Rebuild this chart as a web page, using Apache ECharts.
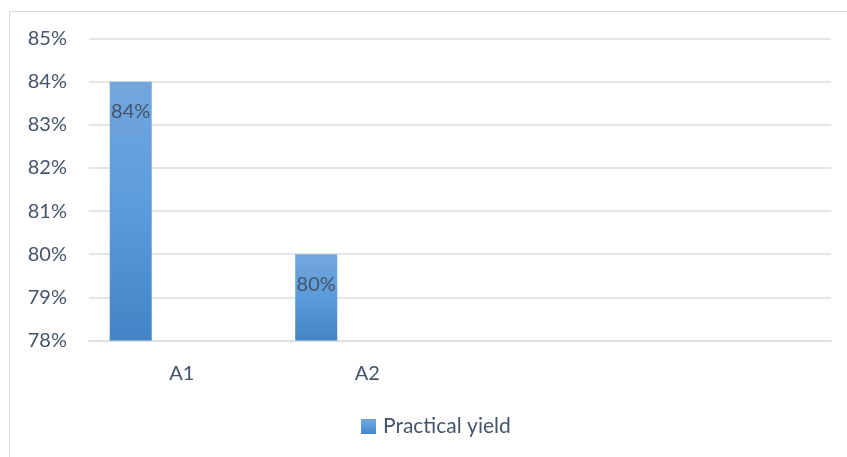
<!DOCTYPE html>
<html>
<head>
<meta charset="utf-8">
<style>
  html, body { margin: 0; padding: 0; background: #ffffff; }
  #chart { width: 847px; height: 457px; }
</style>
<script src="https://cdn.jsdelivr.net/npm/echarts@6/dist/echarts.min.js"></script>
</head>
<body>
<div id="chart"></div>
<script>
// Categories along the x axis (the last two slots are empty)
const categories = ['A1', 'A2', '', ''];
// Practical yield per sample, in percent
const practicalYield = [84, 80, null, null];
// Companion series slot (no values), keeps the bars on the left of each band
const emptySlot = [null, null, null, null];
// Value axis range and step, in percent
const yMin = 78;
const yMax = 85;
const yStep = 1;

const textColor = '#44546a';
const gridColor = '#dadde2';
const font = 'Lato, "Open Sans", sans-serif';

const chart = echarts.init(document.getElementById('chart'), null, { renderer: 'canvas' });

chart.setOption({
  animation: false,
  backgroundColor: '#ffffff',
  graphic: [{
    type: 'rect',
    shape: { x: 9.5, y: 11.5, width: 900, height: 500 },
    style: { fill: 'none', stroke: '#d9d9d9', lineWidth: 1 },
    silent: true,
    z: -1
  }],
  grid: { left: 89, right: 16, top: 38.5, bottom: 116.5, containLabel: false },
  legend: {
    data: ['Practical yield'],
    top: 416,
    left: 361,
    padding: 0,
    itemWidth: 15,
    itemHeight: 15,
    itemGap: 8,
    icon: 'rect',
    textStyle: { color: textColor, fontSize: 21, fontFamily: font, padding: [0, 0, 0, 2] }
  },
  xAxis: {
    type: 'category',
    data: categories,
    axisLine: { show: true, lineStyle: { color: gridColor, width: 1.5 } },
    axisTick: { show: false },
    axisLabel: { color: textColor, fontSize: 20, fontFamily: font, margin: 23 }
  },
  yAxis: {
    type: 'value',
    min: yMin,
    max: yMax,
    interval: yStep,
    axisLine: { show: false },
    axisTick: { show: false },
    splitLine: { lineStyle: { color: gridColor, width: 1.5 } },
    axisLabel: {
      color: textColor, fontSize: 20, fontFamily: font, margin: 22,
      formatter: '{value}%'
    }
  },
  series: [
    {
      name: 'Practical yield',
      type: 'bar',
      data: practicalYield,
      barWidth: 42,
      barGap: '143%',
      itemStyle: {
        color: new echarts.graphic.LinearGradient(0, 0, 0, 1, [
          { offset: 0, color: '#72a7dc' },
          { offset: 0.5, color: '#5b9bdb' },
          { offset: 1, color: '#4384c6' }
        ])
      },
      label: {
        show: true,
        position: 'insideTop',
        distance: 20,
        color: textColor,
        fontSize: 20,
        fontFamily: font,
        formatter: p => p.value + '%'
      }
    },
    {
      name: 'slot',
      type: 'bar',
      data: emptySlot,
      barWidth: 42
    }
  ]
});
</script>
</body>
</html>
